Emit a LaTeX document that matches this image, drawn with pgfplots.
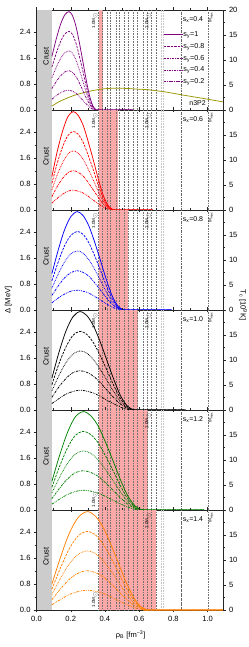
\documentclass[border=0pt]{standalone}
\usepackage{fontspec}
\setmainfont{Liberation Sans}
\usepackage{pgfplots}
\pgfplotsset{compat=1.18}
\usepackage{pgfplotstable}

\definecolor{cpurple}{RGB}{128,0,128}
\definecolor{cred}{RGB}{255,0,0}
\definecolor{cblue}{RGB}{0,0,255}
\definecolor{cblack}{RGB}{0,0,0}
\definecolor{cgreen}{RGB}{0,128,0}
\definecolor{corange}{RGB}{255,128,0}
\definecolor{colive}{RGB}{150,150,0}
\definecolor{bandred}{RGB}{250,168,168}
\definecolor{crustgray}{RGB}{204,204,204}

\newcommand{\ticksize}{\fontsize{7.6}{8}\selectfont}
\newcommand{\tinysize}{\fontsize{4.5}{5}\selectfont}

% s_x = 0.4
\pgfplotstableread{
r d1 d08 d06 d04 d02
0.09 1.65 1.32 0.99 0.66 0.33
0.115 2.18 1.74 1.31 0.87 0.44
0.14 2.63 2.10 1.58 1.05 0.53
0.165 2.93 2.34 1.76 1.17 0.59
0.19 3.03 2.42 1.82 1.21 0.61
0.21 2.91 2.33 1.75 1.16 0.58
0.23 2.59 2.07 1.55 1.04 0.52
0.25 2.09 1.67 1.25 0.84 0.42
0.27 1.52 1.22 0.91 0.61 0.30
0.29 0.94 0.75 0.56 0.38 0.19
0.31 0.44 0.35 0.26 0.18 0.09
0.33 0.12 0.10 0.07 0.05 0.02
0.35 0 0 0 0 0
0.37 0 0 0 0 0
0.565 0 0 0 0 0
}\tA
% s_x = 0.6
\pgfplotstableread{
r d1 d08 d06 d04 d02
0.09 1.03 0.82 0.62 0.41 0.21
0.121 1.80 1.44 1.08 0.72 0.36
0.153 2.44 1.95 1.46 0.98 0.49
0.184 2.88 2.30 1.73 1.15 0.58
0.215 3.03 2.42 1.82 1.21 0.61
0.244 2.91 2.33 1.75 1.16 0.58
0.274 2.59 2.07 1.55 1.04 0.52
0.303 2.09 1.67 1.25 0.84 0.42
0.333 1.52 1.22 0.91 0.61 0.30
0.362 0.94 0.75 0.56 0.38 0.19
0.391 0.44 0.35 0.26 0.18 0.09
0.421 0.12 0.10 0.07 0.05 0.02
0.45 0 0 0 0 0
0.47 0 0 0 0 0
0.68 0 0 0 0 0
}\tB
% s_x = 0.8
\pgfplotstableread{
r d1 d08 d06 d04 d02
0.09 1.12 0.90 0.67 0.45 0.22
0.127 1.85 1.48 1.11 0.74 0.37
0.164 2.47 1.98 1.48 0.99 0.49
0.201 2.88 2.30 1.73 1.15 0.58
0.238 3.03 2.42 1.82 1.21 0.61
0.272 2.91 2.33 1.75 1.16 0.58
0.306 2.59 2.07 1.55 1.04 0.52
0.340 2.09 1.67 1.25 0.84 0.42
0.374 1.52 1.22 0.91 0.61 0.30
0.408 0.94 0.75 0.56 0.38 0.19
0.442 0.44 0.35 0.26 0.18 0.09
0.476 0.12 0.10 0.07 0.05 0.02
0.51 0 0 0 0 0
0.53 0 0 0 0 0
0.79 0 0 0 0 0
}\tC
% s_x = 1.0
\pgfplotstableread{
r d1 d08 d06 d04 d02
0.09 0.98 0.78 0.59 0.39 0.20
0.131 1.77 1.42 1.06 0.71 0.35
0.172 2.43 1.94 1.46 0.97 0.49
0.213 2.87 2.30 1.72 1.15 0.57
0.254 3.03 2.42 1.82 1.21 0.61
0.294 2.91 2.33 1.75 1.16 0.58
0.333 2.59 2.07 1.55 1.04 0.52
0.373 2.09 1.67 1.25 0.84 0.42
0.412 1.52 1.22 0.91 0.61 0.30
0.452 0.94 0.75 0.56 0.38 0.19
0.491 0.44 0.35 0.26 0.18 0.09
0.531 0.12 0.10 0.07 0.05 0.02
0.57 0 0 0 0 0
0.59 0 0 0 0 0
0.87 0 0 0 0 0
}\tD
% s_x = 1.2
\pgfplotstableread{
r d1 d08 d06 d04 d02
0.09 0.88 0.70 0.53 0.35 0.18
0.136 1.70 1.36 1.02 0.68 0.34
0.182 2.40 1.92 1.44 0.96 0.48
0.227 2.87 2.30 1.72 1.15 0.57
0.273 3.03 2.42 1.82 1.21 0.61
0.316 2.91 2.33 1.75 1.16 0.58
0.360 2.59 2.07 1.55 1.04 0.52
0.403 2.09 1.67 1.25 0.84 0.42
0.447 1.52 1.22 0.91 0.61 0.30
0.490 0.94 0.75 0.56 0.38 0.19
0.533 0.44 0.35 0.26 0.18 0.09
0.577 0.12 0.10 0.07 0.05 0.02
0.62 0 0 0 0 0
0.64 0 0 0 0 0
0.98 0 0 0 0 0
}\tE
% s_x = 1.4
\pgfplotstableread{
r d1 d08 d06 d04 d02
0.09 0.80 0.64 0.48 0.32 0.16
0.142 1.65 1.32 0.99 0.66 0.33
0.193 2.38 1.90 1.43 0.95 0.48
0.245 2.86 2.29 1.72 1.14 0.57
0.296 3.03 2.42 1.82 1.21 0.61
0.340 2.91 2.33 1.75 1.16 0.58
0.385 2.59 2.07 1.55 1.04 0.52
0.429 2.09 1.67 1.25 0.84 0.42
0.473 1.52 1.22 0.91 0.61 0.30
0.517 0.94 0.75 0.56 0.38 0.19
0.562 0.44 0.35 0.26 0.18 0.09
0.606 0.12 0.10 0.07 0.05 0.02
0.65 0 0 0 0 0
0.67 0 0 0 0 0
1.09 0 0 0 0 0
}\tF

\tikzset{
  sA/.style={solid, line width=0.75pt},
  sB/.style={line width=0.75pt, dash pattern=on 2.4bp off 1.2bp},
  sC/.style={line width=0.75pt, dash pattern=on 0.75bp off 0.9bp},
  sD/.style={line width=0.75pt, dash pattern=on 2.4bp off 1bp on 0.75bp off 1bp},
  sE/.style={line width=0.75pt, dash pattern=on 2.4bp off 1bp on 0.75bp off 1bp on 0.75bp off 1bp},
  vl/.style={black!55, line width=0.3pt, dash pattern=on 0.5bp off 1.1bp},
}

\pgfplotsset{
  panel/.style={scale only axis, width=186.5bp, height=100bp,
    xmin=0, xmax=1.09, ymin=0, ymax=3.08, anchor=south west,
    ytick={0,0.8,1.6,2.4}, minor y tick num=1,
    xtick={0,0.2,0.4,0.6,0.8,1.0}, minor x tick num=1,
    ytick pos=left, xtick pos=both, tick align=outside,
    major tick length=2.5bp, minor tick length=1.5bp,
    xticklabels={},
    yticklabel style={/pgf/number format/.cd, fixed, fixed zerofill, precision=1},
    axis line style={line width=0.5pt, black!85},
    every tick/.style={black!85, line width=0.4pt},
    tick label style={font=\ticksize},
    /pgf/number format/assume math mode=true},
  rpanel/.style={scale only axis, width=186.5bp, height=100bp,
    xmin=0, xmax=1.09, ymin=0, ymax=20, anchor=south west,
    axis x line=none, axis y line*=right,
    ytick={0,5,10,15,20}, minor y tick num=1, tick align=outside,
    major tick length=2.5bp, minor tick length=1.5bp,
    axis line style={line width=0.5pt, black!85},
    every tick/.style={black!85, line width=0.4pt},
    tick label style={font=\ticksize},
    /pgf/number format/assume math mode=true},
  rlow/.style={rpanel, yticklabels={0,5,10,15,{}}},
}

\newcommand{\vlines}{%
  \addplot[forget plot, fill=crustgray, draw=none] coordinates {(0,3.08) (0.09,3.08)} \closedcycle;
  \pgfplotsinvokeforeach{0.360,0.386,0.413,0.433,0.464,0.483,0.512,0.538,0.564,0.590,0.623,0.646,0.672,0.697}{%
    \addplot[forget plot, vl] coordinates {(##1,0) (##1,3.08)};}
  \addplot[forget plot, gray!45, line width=0.6pt, dash pattern=on 1bp off 0.6bp] coordinates {(0.731,0) (0.731,3.08)};
  \addplot[forget plot, gray!45, line width=0.6pt, dash pattern=on 1bp off 0.6bp] coordinates {(0.740,0) (0.740,3.08)};
  \addplot[forget plot, black!60, line width=0.35pt, dash pattern=on 2bp off 1bp on 0.5bp off 1bp] coordinates {(0.847,0) (0.847,3.08)};
  \addplot[forget plot, vl] coordinates {(1.002,0) (1.002,3.08)};
  \node[rotate=90, font=\ticksize] at (axis cs:0.056,1.65) {Crust};
  \node[rotate=90, anchor=south east, font=\tinysize, inner sep=0.4pt] at (axis cs:0.672,3.02) {2.0M\textsubscript{$\odot$}};
  \node[rotate=90, anchor=north east, font=\tinysize, inner sep=0.4pt] at (axis cs:1.002,3.02) {M\textsubscript{max}};
}
\newcommand{\band}[1]{%
  \addplot[forget plot, fill=bandred, draw=none] coordinates {(0.366,3.08) (#1,3.08)} \closedcycle;}
\newcommand{\curves}[2]{%
  \addplot[#1, sA, smooth] table[x=r, y=d1] {#2};
  \addplot[#1, sB, smooth] table[x=r, y=d08] {#2};
  \addplot[#1, sC, smooth] table[x=r, y=d06] {#2};
  \addplot[#1, sD, smooth] table[x=r, y=d04] {#2};
  \addplot[#1, sE, smooth] table[x=r, y=d02] {#2};}
\newcommand{\sxlabel}[1]{\node[anchor=east, font=\fontsize{7}{8}\selectfont, inner sep=0pt] at (axis cs:0.975,2.77) {s\textsubscript{x}=#1};}
\newcommand{\onetop}{\node[rotate=90, anchor=south east, font=\tinysize, inner sep=0.4pt] at (axis cs:0.360,3.02) {1.0M\textsubscript{$\odot$}};}
\newcommand{\onebot}{\node[rotate=90, anchor=south west, font=\tinysize, inner sep=0.4pt] at (axis cs:0.360,0.06) {1.0M\textsubscript{$\odot$}};}

\begin{document}
\begin{tikzpicture}
% panel 1: s_x = 0.4
\begin{axis}[panel, at={(0,500bp)},
  legend style={at={(rel axis cs:0.678,0.80)}, anchor=north west, draw=none, fill=none,
    font=\fontsize{7.2}{8}\selectfont, inner sep=0pt, row sep=3.6bp,
    nodes={inner sep=0.6pt, text height=5.5pt, text depth=1.6pt}},
  legend cell align=left,
  legend image code/.code={\draw[#1] (0bp,0bp) -- (19bp,0bp);}]
  \band{0.39}
  \vlines
  \addplot[forget plot, colive, line width=0.75pt, smooth] coordinates {(0.09,0.12) (0.13,0.25) (0.176,0.36) (0.22,0.45) (0.273,0.53) (0.33,0.60) (0.39,0.65) (0.45,0.67) (0.52,0.665) (0.60,0.64) (0.66,0.62) (0.76,0.55) (0.856,0.46) (0.97,0.36) (1.09,0.25)};
  \curves{cpurple}{\tA}
  \onetop
  \sxlabel{0.4}
  \node[anchor=east, font=\fontsize{7}{8}\selectfont, inner sep=0pt] at (axis cs:0.99,0.2) {n3P2};
  \legend{s\textsubscript{y}=1, s\textsubscript{y}=0.8, s\textsubscript{y}=0.6, s\textsubscript{y}=0.4, s\textsubscript{y}=0.2}
\end{axis}
\begin{axis}[rpanel, at={(0,500bp)}]\end{axis}
% panel 2: s_x = 0.6
\begin{axis}[panel, at={(0,400bp)}]
  \band{0.477}
  \vlines
  \curves{cred}{\tB}
  \onetop
  \sxlabel{0.6}
\end{axis}
\begin{axis}[rlow, at={(0,400bp)}]\end{axis}
% panel 3: s_x = 0.8
\begin{axis}[panel, at={(0,300bp)}]
  \band{0.535}
  \vlines
  \curves{cblue}{\tC}
  \onetop
  \sxlabel{0.8}
\end{axis}
\begin{axis}[rlow, at={(0,300bp)}]\end{axis}
% panel 4: s_x = 1.0
\begin{axis}[panel, at={(0,200bp)}]
  \band{0.594}
  \vlines
  \curves{cblack}{\tD}
  \onetop
  \sxlabel{1.0}
\end{axis}
\begin{axis}[rlow, at={(0,200bp)}]\end{axis}
% panel 5: s_x = 1.2
\begin{axis}[panel, at={(0,100bp)}]
  \band{0.652}
  \vlines
  \curves{cgreen}{\tE}
  \onebot
  \sxlabel{1.2}
\end{axis}
\begin{axis}[rlow, at={(0,100bp)}]\end{axis}
% panel 6: s_x = 1.4
\begin{axis}[panel, at={(0,0bp)},
  xticklabels={0.0,0.2,0.4,0.6,0.8,1.0}]
  \band{0.70}
  \vlines
  \curves{corange}{\tF}
  \onebot
  \sxlabel{1.4}
\end{axis}
\begin{axis}[rlow, at={(0,0bp)}]\end{axis}

\node[rotate=90, font=\fontsize{7.6}{9}\selectfont] at (-28bp,310bp) {Δ [MeV]};
\node[rotate=-90, font=\fontsize{7.6}{9}\selectfont] at (206.5bp,305bp) {T\textsubscript{c} [10\textsuperscript{9}K]};
\node[font=\fontsize{7.6}{9}\selectfont] at (94.2bp,-25bp) {ρ\textsubscript{B} [fm\textsuperscript{−3}]};

\pgfresetboundingbox
\path[use as bounding box] (-36.5bp,-37bp) rectangle (212.5bp,610bp);
\end{tikzpicture}
\end{document}
